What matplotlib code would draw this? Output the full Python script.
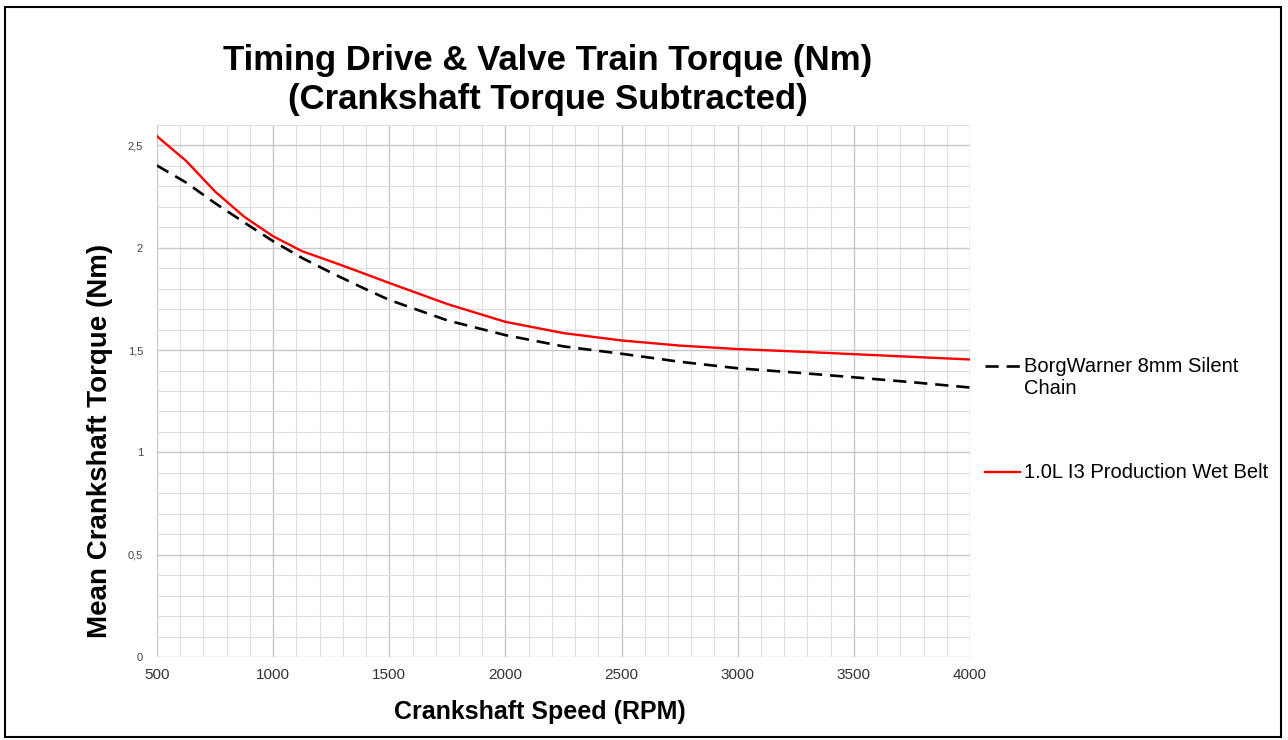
import numpy as np
import matplotlib.pyplot as plt
from matplotlib.lines import Line2D
from matplotlib.patches import Rectangle
from matplotlib.ticker import MultipleLocator, FuncFormatter

plt.rcParams['font.family'] = ['Liberation Sans', 'DejaVu Sans']

# Crankshaft speed (RPM)
rpm = [500, 625, 750, 875, 1000, 1125, 1250, 1375, 1500, 1750, 2000, 2250, 2500,
       2750, 3000, 3250, 3500, 3750, 4000]
# Mean torque (Nm)
wet_belt = [2.545, 2.425, 2.275, 2.152, 2.056, 1.983, 1.933, 1.881, 1.828, 1.725, 1.638,
            1.583, 1.547, 1.522, 1.505, 1.493, 1.480, 1.467, 1.454]
silent_chain = [2.402, 2.319, 2.218, 2.124, 2.032, 1.950, 1.878, 1.810, 1.745, 1.645,
                1.573, 1.518, 1.482, 1.443, 1.411, 1.390, 1.367, 1.343, 1.317]

label_chain = ['BorgWarner 8mm Silent', 'Chain']
label_belt = '1.0L I3 Production Wet Belt'

fig = plt.figure(figsize=(12.88, 7.40), dpi=100)
ax = fig.add_axes([157/1288, 1 - 657/740, (970 - 157)/1288, (657 - 125)/740])

ax.plot(rpm, silent_chain, color='black', lw=1.9, dashes=(5, 3))
ax.plot(rpm, wet_belt, color='#ff0000', lw=1.7)

ax.set_xlim(500, 4000)
ax.set_ylim(0, 2.6)
ax.xaxis.set_major_locator(MultipleLocator(500))
ax.xaxis.set_minor_locator(MultipleLocator(100))
ax.yaxis.set_major_locator(MultipleLocator(0.5))
ax.yaxis.set_minor_locator(MultipleLocator(0.1))
ax.yaxis.set_major_formatter(FuncFormatter(lambda v, p: ('%g' % v).replace('.', ',')))
ax.grid(which='major', color='#c8c8c8', lw=1.0)
ax.grid(which='minor', color='#dedede', lw=0.8)
ax.set_axisbelow(True)
for s in ax.spines.values():
    s.set_visible(False)
ax.tick_params(which='both', length=0)
ax.tick_params(axis='y', labelsize=8, colors='#444444', pad=10)
ax.tick_params(axis='x', labelsize=11, colors='#333333', pad=8)

fig.text(540/1288, 1 - 712/740, 'Crankshaft Speed (RPM)', fontsize=18, fontweight='bold',
         ha='center', va='center')
fig.text(100/1288, 1 - 441/740, 'Mean Crankshaft Torque (Nm)', fontsize=20, fontweight='bold',
         ha='center', va='center', rotation=90)

fig.text(548/1288, 1 - 80/740, 'Timing Drive & Valve Train Torque (Nm)\n(Crankshaft Torque Subtracted)',
         ha='center', va='center', fontsize=25, fontweight='bold', linespacing=1.2)

# legend
fig.add_artist(Line2D([985/1288, 1020/1288], [1 - 366/740] * 2, color='black', lw=1.9, dashes=(5, 3)))
fig.text(1024/1288, 1 - 366/740, label_chain[0], fontsize=14.5, va='center')
fig.text(1024/1288, 1 - 389/740, label_chain[1], fontsize=14.5, va='center')
fig.add_artist(Line2D([985/1288, 1020/1288], [1 - 472/740] * 2, color='#ff0000', lw=1.7))
fig.text(1024/1288, 1 - 472/740, label_belt, fontsize=14.5, va='center')

fig.add_artist(Rectangle((5/1288, 3/740), 1276/1288, 730/740, transform=fig.transFigure,
                         fill=False, edgecolor='black', lw=1.5))

fig.savefig('out.png', dpi=100)
